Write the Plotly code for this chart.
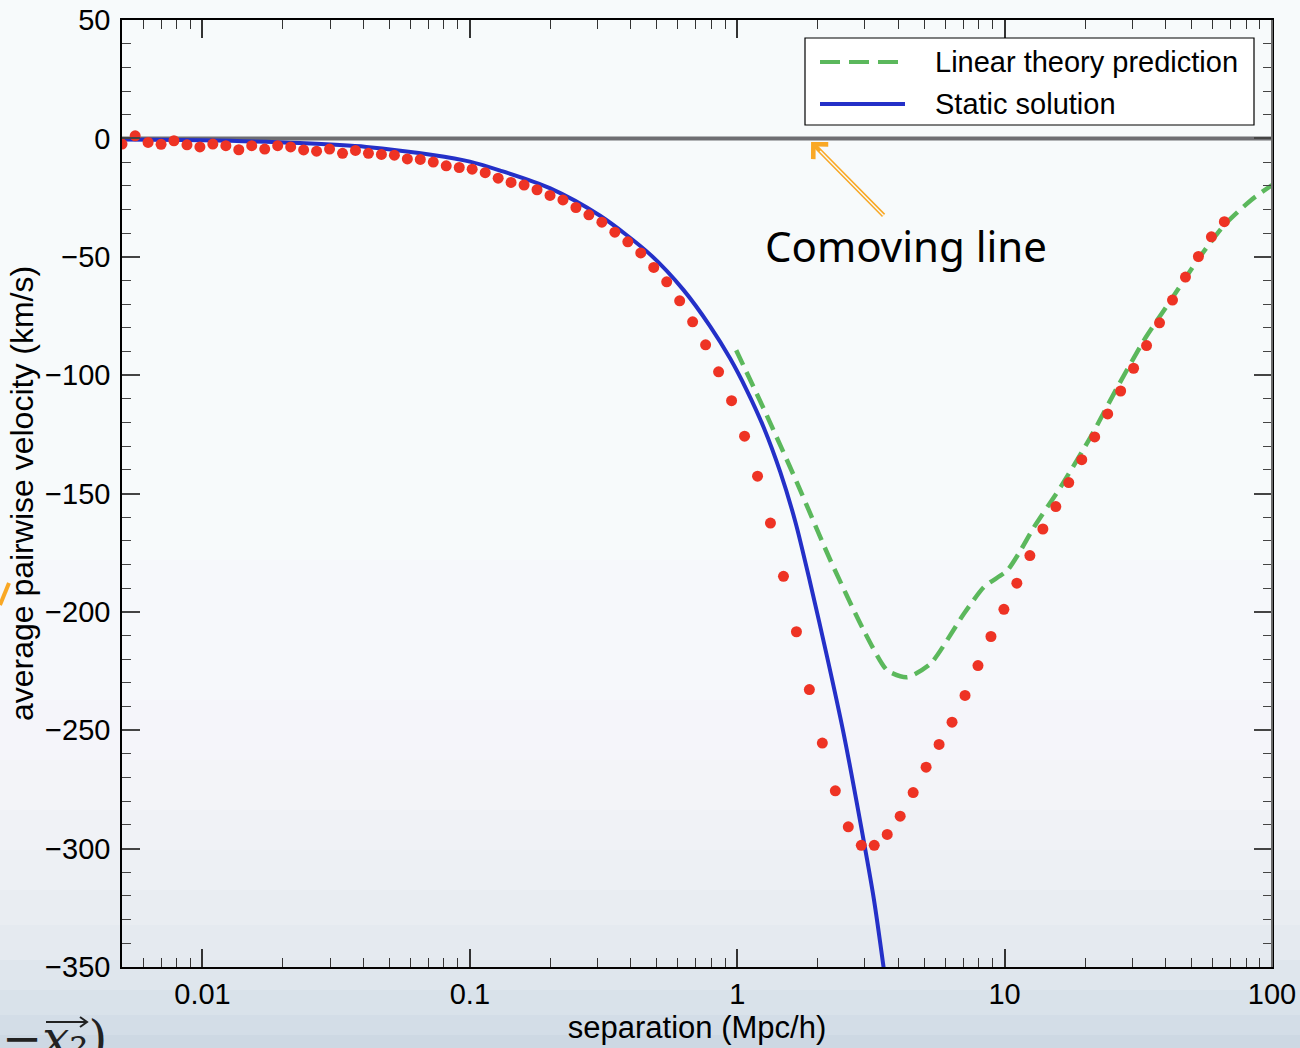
import plotly.graph_objects as go

# ---------------- data ----------------
sep_sim = [0.00500, 0.00560, 0.00626, 0.00700, 0.00782, 0.00875, 0.00978, 0.01093, 0.01223, 0.01367,
           0.01528, 0.01709, 0.01911, 0.02137, 0.02389, 0.02671, 0.02987, 0.03340, 0.03734, 0.04175,
           0.04669, 0.05220, 0.05837, 0.06526, 0.07297, 0.08159, 0.09126, 0.1020, 0.1141, 0.1276,
           0.1426, 0.1595, 0.1783, 0.1994, 0.2229, 0.2493, 0.2787, 0.3117, 0.3485, 0.3897,
           0.4357, 0.4872, 0.5447, 0.6091, 0.6810, 0.7615, 0.8515, 0.9524, 1.065, 1.191,
           1.331, 1.489, 1.665, 1.861, 2.081, 2.327, 2.602, 2.910, 3.253, 3.638,
           4.068, 4.549, 5.086, 5.687, 6.359, 7.110, 7.950, 8.889, 9.938, 11.11,
           12.43, 13.90, 15.54, 17.37, 19.43, 21.72, 24.29, 27.16, 30.36, 33.95,
           37.96, 42.45, 47.46, 53.07, 59.34, 66.35]
vel_sim = [-2.4, 1.1, -1.7, -2.5, -1.0, -2.7, -3.6, -2.4, -3.1, -4.8,
           -3.1, -4.5, -3.1, -3.6, -4.9, -5.4, -4.5, -6.3, -5.1, -6.3,
           -6.8, -7.1, -8.7, -8.9, -10.0, -11.6, -12.3, -13.0, -14.5, -16.8,
           -18.6, -19.7, -21.7, -24.1, -26.0, -29.2, -32.3, -35.4, -39.6, -43.7,
           -48.4, -54.5, -60.6, -68.6, -77.5, -87.2, -98.6, -110.8, -125.8, -142.7,
           -162.5, -185.0, -208.4, -232.8, -255.4, -275.6, -290.8, -298.6, -298.6, -294.0,
           -286.3, -276.3, -265.6, -256.0, -246.6, -235.3, -222.7, -210.4, -198.9, -187.9,
           -176.2, -165.0, -155.5, -145.4, -135.7, -126.1, -116.4, -106.7, -97.1, -87.5,
           -77.9, -68.3, -58.6, -49.9, -41.6, -35.2]

sep_static = [0.005, 0.01, 0.0231, 0.041, 0.0726, 0.1, 0.129, 0.199, 0.307, 0.472,
              0.629, 0.793, 0.941, 1.087, 1.255, 1.449, 1.65, 1.877, 2.168, 2.501,
              2.888, 3.24, 3.53]
vel_static = [-0.5, -0.8, -2.0, -3.6, -7.0, -9.8, -13.5, -21.0, -32.7, -49.0,
              -64.0, -79.5, -93.0, -106.5, -122.0, -141.0, -162.0, -188.0, -219.0, -251.5,
              -289.0, -321.0, -350.5]

sep_linear = [0.991, 1.254, 1.674, 2.230, 2.972, 3.637, 4.321, 5.283, 7.041, 8.367,
              10.23, 11.48, 12.88, 16.21, 20.99, 26.43, 33.24, 41.85, 52.68, 66.27,
              83.43, 100.0]
vel_linear = [-89.5, -114.0, -145.5, -178.2, -207.8, -224.7, -227.6, -221.9, -200.8, -189.5,
              -182.5, -174.0, -164.2, -147.2, -126.1, -105.0, -85.2, -68.3, -51.4, -36.6,
              -26.1, -19.7]

x_range = [0.005, 100]
y_range = [-350, 50]
y_tickvals = [50, 0, -50, -100, -150, -200, -250, -300, -350]
legend_names = ["Linear theory prediction", "Static solution"]

# ---------------- geometry helpers (layout only) ----------------
W, H = 1300, 1048
PL, PR, PT, PB = 122, 1272, 20, 967


def px(xp):
    return (xp - PL) / (PR - PL)


def py(yp):
    return (PB - yp) / (PB - PT)


RED = "#EE3324"
BLUE = "#2430C8"
GREEN = "#5BB85C"
ORANGE = "#F9A825"
BG_TOP = "#F7FAFB"
FONT = "Liberation Sans, Arial"

fig = go.Figure()

fig.add_trace(go.Scatter(
    x=sep_static, y=vel_static, mode="lines", name=legend_names[1],
    line=dict(color=BLUE, width=4, shape="spline", smoothing=0.8),
    showlegend=False))

fig.add_trace(go.Scatter(
    x=sep_linear, y=vel_linear, mode="lines", name=legend_names[0],
    line=dict(color=GREEN, width=4.5, dash="16px,8px", shape="spline", smoothing=0.6),
    showlegend=False))

fig.add_trace(go.Scatter(
    x=sep_sim, y=vel_sim, mode="markers", name="simulation",
    marker=dict(color=RED, size=11, line=dict(width=0)),
    showlegend=False))

shapes = []
# background gradient bands
bands = [
    (0, 560, "#F7FAFB"), (560, 700, "#F6F8FB"), (700, 760, "#F5F5FA"),
    (760, 810, "#F3F4F8"), (810, 850, "#F0F2F6"), (850, 890, "#EDF0F4"),
    (890, 925, "#E9EDF2"), (925, 960, "#E5EAF0"), (960, 990, "#DFE6ED"),
    (990, 1015, "#D9E2EA"), (1015, 1035, "#D3DDE7"), (1035, 1048, "#CDD8E3"),
]
for y0, y1, c in bands:
    shapes.append(dict(type="rect", xref="paper", yref="paper", layer="below",
                       x0=-0.2, x1=1.2, y0=py(y1), y1=py(y0),
                       fillcolor=c, line=dict(width=0)))

# comoving (zero) line
shapes.append(dict(type="line", xref="paper", yref="y", x0=0, x1=1, y0=0, y1=0,
                   line=dict(color="#6E6E72", width=4), layer="below"))

# right border (grey)
shapes.append(dict(type="line", xref="paper", yref="paper", x0=1, x1=1, y0=0, y1=1,
                   line=dict(color="#6A6A6A", width=2)))

# manual legend
shapes.append(dict(type="rect", xref="paper", yref="paper",
                   x0=px(805), x1=px(1254), y0=py(125), y1=py(38),
                   fillcolor="white", line=dict(color="black", width=1.2)))
shapes.append(dict(type="line", xref="paper", yref="paper",
                   x0=px(820), x1=px(905), y0=py(62), y1=py(62),
                   line=dict(color=GREEN, width=4, dash="20px,9px")))
shapes.append(dict(type="line", xref="paper", yref="paper",
                   x0=px(820), x1=px(905), y0=py(104), y1=py(104),
                   line=dict(color=BLUE, width=4)))

# orange fragment at left edge
shapes.append(dict(type="line", xref="paper", yref="paper",
                   x0=px(0), x1=px(9), y0=py(605), y1=py(583),
                   line=dict(color=ORANGE, width=4)))

# vector arrow of the slide remnant (bottom-left)
shapes.append(dict(type="line", xref="paper", yref="paper",
                   x0=px(46), x1=px(86), y0=py(1022), y1=py(1022),
                   line=dict(color="#222222", width=2)))
shapes.append(dict(type="path", xref="paper", yref="paper",
                   path="M %f,%f L %f,%f L %f,%f" % (px(80), py(1017), px(87), py(1022), px(80), py(1027)),
                   line=dict(color="#222222", width=2)))

annotations = []
annotations.append(dict(xref="paper", yref="paper", x=px(933), y=py(62),
                        text=legend_names[0], showarrow=False, xanchor="left", yanchor="middle",
                        font=dict(family=FONT, size=29, color="black")))
annotations.append(dict(xref="paper", yref="paper", x=px(933), y=py(104),
                        text=legend_names[1], showarrow=False, xanchor="left", yanchor="middle",
                        font=dict(family=FONT, size=29, color="black")))

# Comoving line label
annotations.append(dict(xref="paper", yref="paper", x=px(906), y=py(245),
                        text="Comoving line", showarrow=False, xanchor="center", yanchor="middle",
                        font=dict(family="Noto Sans", size=42, color="black")))

# double-line orange arrow
head_x = -2 + (811 - 202.7) / 267.25
annotations.append(dict(x=head_x, y=-1.5, xref="x", yref="y", ax=74, ay=75,
                        text="", showarrow=True, arrowhead=4, arrowsize=0.9,
                        arrowwidth=4.5, arrowcolor=ORANGE, standoff=0))
head2_x = -2 + (820 - 202.7) / 267.25
annotations.append(dict(x=head2_x, y=-5.3, xref="x", yref="y", ax=65, ay=66,
                        text="", showarrow=True, arrowhead=0,
                        arrowwidth=1.4, arrowcolor=BG_TOP, standoff=0))

# slide remnant text at bottom left (partly cut, as in the reference)
annotations.append(dict(xref="paper", yref="paper", x=px(0), y=py(1008),
                        text="\u2212<i>x</i>\u2082)", showarrow=False,
                        xanchor="left", yanchor="top",
                        font=dict(family="DejaVu Serif", size=48, color="#222222")))

fig.update_layout(
    width=W, height=H,
    margin=dict(l=PL, r=W - PR, t=PT, b=H - PB, pad=0),
    paper_bgcolor=BG_TOP,
    plot_bgcolor="rgba(0,0,0,0)",
    shapes=shapes,
    annotations=annotations,
    showlegend=False,
    font=dict(family=FONT, color="black"),
)

fig.update_xaxes(
    type="log", range=[-2.30103, 2], dtick=1,
    showgrid=False, zeroline=False,
    showline=True, linecolor="black", linewidth=1.5, mirror="allticks",
    ticks="inside", ticklen=18, tickwidth=1.5, tickcolor="#333333",
    minor=dict(ticks="inside", ticklen=9, tickwidth=1.2, tickcolor="#333333", showgrid=False),
    tickfont=dict(size=29, family=FONT, color="black"),
    ticklabelstandoff=0,
    title=dict(text="separation (Mpc/h)", font=dict(size=31, family=FONT), standoff=8),
    automargin=False,
)
fig.update_yaxes(
    range=y_range, tickvals=y_tickvals,
    showgrid=False, zeroline=False,
    showline=True, linecolor="black", linewidth=1.5, mirror="allticks",
    ticks="inside", ticklen=18, tickwidth=1.5, tickcolor="#444444",
    minor=dict(ticks="inside", ticklen=9, tickwidth=1.2, tickcolor="#444444", dtick=10, showgrid=False),
    tickfont=dict(size=29, family=FONT, color="black"),
    ticklabelstandoff=4,
    title=dict(text="average pairwise velocity (km/s)", font=dict(size=32, family=FONT), standoff=2),
    automargin=False,
)

fig.write_html("out.html")
